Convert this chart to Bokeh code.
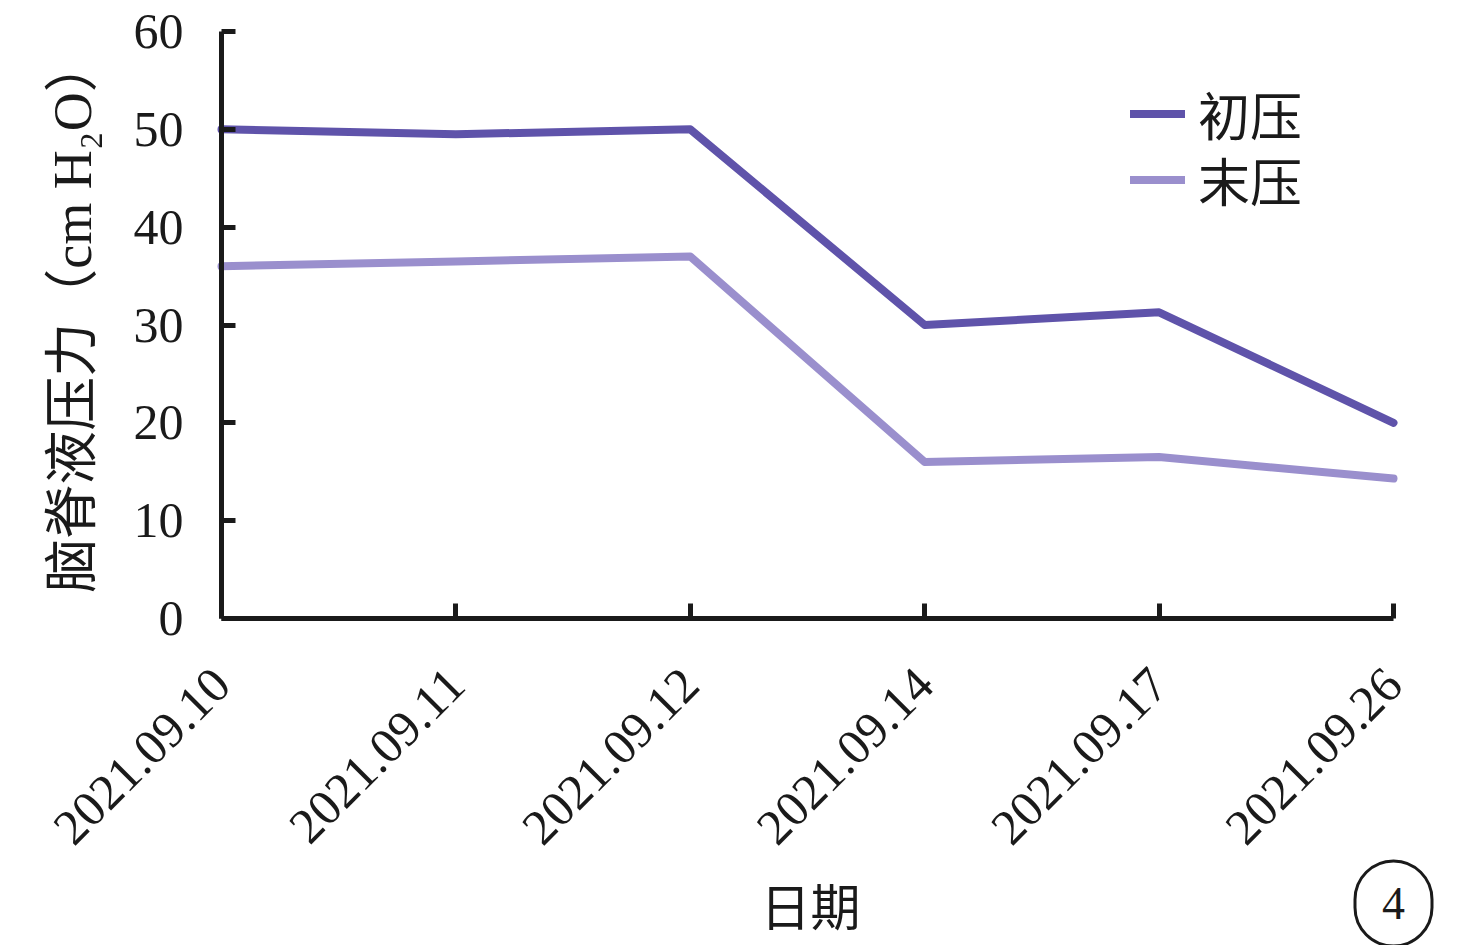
import math
from bokeh.plotting import figure
from bokeh.models import Range1d, FixedTicker, Legend, LegendItem, Label
from bokeh.embed import file_html
from bokeh.resources import INLINE

dates = ["2021.09.10", "2021.09.11", "2021.09.12", "2021.09.14", "2021.09.17", "2021.09.26"]
initial_pressure = [50.0, 49.5, 50.0, 30.0, 31.3, 20.0]
final_pressure = [36.0, 36.5, 37.0, 16.0, 16.5, 14.3]
y_ticks = [0, 10, 20, 30, 40, 50, 60]
x_title = "日期"
y_title = "脑脊液压力（cm H₂O）"
panel_number = "4"

FONT = "'Liberation Serif', 'Noto Sans CJK SC'"
DARK = "#5f53aa"
LIGHT = "#9a8fcd"
INK = "#1a1a1a"

# layout (pixels): the frame covers the whole canvas, axes are pinned at 0
W, H = 1476, 945
AXIS_X0, AXIS_X1 = 221, 1393       # pixel columns of first / last date
AXIS_TOP, AXIS_Y = 31, 618         # pixel rows of y = 60 / y = 0
n = len(dates)
px_x = (AXIS_X1 - AXIS_X0) / (n - 1)
px_y = (AXIS_Y - AXIS_TOP) / 60.0


def dx(px):
    return (px - AXIS_X0) / px_x


def dy(py):
    return (AXIS_Y - py) / px_y


xs = list(range(n))

p = figure(width=W, height=H, output_backend="svg", toolbar_location=None,
           x_range=Range1d(dx(0), dx(W)), y_range=Range1d(dy(H), dy(0)),
           min_border=0)
p.outline_line_color = None
p.grid.visible = False
p.background_fill_color = "white"
p.border_fill_color = "white"

r1 = p.line(xs, initial_pressure, line_color=DARK, line_width=8, line_cap="round", line_join="round")
r2 = p.line(xs, final_pressure, line_color=LIGHT, line_width=8, line_cap="round", line_join="round")

# x axis, drawn at y = 0
xa = p.xaxis[0]
xa.fixed_location = 0
xa.bounds = (0, n - 1)
xa.ticker = FixedTicker(ticks=xs)
xa.major_label_overrides = {i: d for i, d in enumerate(dates)}
xa.major_label_orientation = math.pi / 4
xa.major_label_text_font = FONT
xa.major_label_text_font_size = "50px"
xa.major_label_text_color = INK
xa.major_label_standoff = 58
xa.major_tick_in = 15
xa.major_tick_out = 0
xa.minor_tick_line_color = None
xa.axis_line_width = 5
xa.major_tick_line_width = 5
xa.axis_line_color = INK
xa.major_tick_line_color = INK

# y axis, drawn at x = 0
ya = p.yaxis[0]
ya.fixed_location = 0
ya.bounds = (0, 60)
ya.ticker = FixedTicker(ticks=y_ticks)
ya.major_label_text_font = FONT
ya.major_label_text_font_size = "50px"
ya.major_label_text_color = INK
ya.major_label_standoff = 38
ya.major_tick_in = 14
ya.major_tick_out = 0
ya.minor_tick_line_color = None
ya.axis_line_width = 5
ya.major_tick_line_width = 5
ya.axis_line_color = INK
ya.major_tick_line_color = INK

# axis titles
p.add_layout(Label(x=dx(72), y=dy(315), text=y_title, angle=math.pi / 2,
                   text_font=FONT, text_font_size="54px", text_color=INK,
                   text_align="center", text_baseline="middle"))
p.add_layout(Label(x=dx(810), y=dy(908), text=x_title,
                   text_font=FONT, text_font_size="50px", text_color=INK,
                   text_align="center", text_baseline="middle"))

ITEM_H = 72
legend_style = dict(border_line_color=None, background_fill_alpha=0,
                    padding=0, margin=0, spacing=0, glyph_width=55, glyph_height=65,
                    label_height=65, label_standoff=13,
                    label_text_font=FONT, label_text_font_size="52px", label_text_color=INK)
for item, center in ((LegendItem(label="初压", renderers=[r1]), 115),
                     (LegendItem(label="末压", renderers=[r2]), 181)):
    lg = Legend(items=[item], location=(1130, H - (center + ITEM_H // 2)), **legend_style)
    p.add_layout(lg)

badge = Label(x=n - 1, y=dy(903), text=panel_number,
              text_font=FONT, text_font_size="46px", text_color=INK,
              text_align="center", text_baseline="middle",
              border_line_color=INK, border_line_width=3, border_radius=40, padding=27)
p.add_layout(badge)

open("out.html", "w").write(file_html(p, INLINE))
